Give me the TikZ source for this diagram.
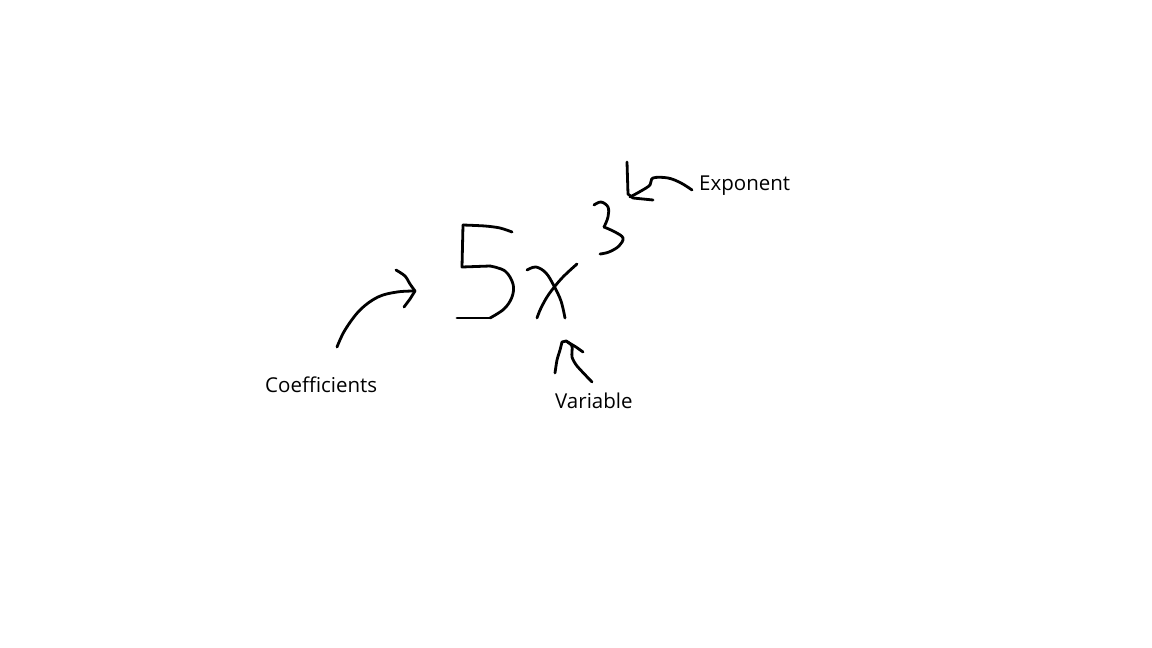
\documentclass[tikz,border=0pt]{standalone}
\usepackage{fontspec}
\setmainfont{Open Sans}
\begin{document}
\begin{tikzpicture}[x=1pt,y=-1pt,
  ink/.style={line width=2.8pt,line cap=round,line join=round,black},
  lbl/.style={anchor=base west,inner sep=0pt,font=\fontsize{20.5}{24}\selectfont}]
\useasboundingbox (0,0) rectangle (1152,648);
% 5
\draw[ink] plot[smooth,tension=0.5] coordinates {(512,232) (500,228) (485,226) (463,225)};
\draw[ink] (463,225) -- (462,267) -- (490,266);
\draw[ink] plot[smooth,tension=0.6] coordinates {(490,266) (505,271) (513,284) (512,297) (504,309) (490,318)};
\draw[ink] (490,318) -- (457,318);
% x
\draw[ink] plot[smooth,tension=0.6] coordinates {(527,270) (536,267) (546,273) (554,286) (561,301) (565,318)};
\draw[ink] plot[smooth,tension=0.6] coordinates {(577,264) (562,278) (549,294) (541,308) (537,318)};
% 3
\draw[ink] plot[smooth,tension=0.6] coordinates {(594,205) (601,202) (608,207) (608,217) (604,227)};
\draw[ink] plot[smooth,tension=0.6] coordinates {(604,227) (615,232) (623,238) (619,246) (609,252) (600,254)};
% coefficient arrow
\draw[ink] plot[smooth,tension=0.6] coordinates {(337,347) (345,330) (360,310) (378,297) (397,292) (415,291)};
\draw[ink] plot[smooth,tension=0.5] coordinates {(396,270) (405,276) (410,284) (415,291)};
\draw[ink] (415,291) -- (410,299) -- (404,307);
% exponent arrow
\draw[ink] (627,162) -- (628,194) -- (633,198) -- (653,200);
\draw[ink] plot[smooth,tension=0.6] coordinates {(692,190) (681,183) (668,178) (653,178) (650,185) (641,191) (630,197)};
% variable arrow
\draw[ink] plot[smooth,tension=0.4] coordinates {(555,373) (557,360) (560,350) (562,342)};
\draw[ink] (562,342) -- (566,341) -- (576,347) -- (583,352);
\draw[ink] plot[smooth,tension=0.4] coordinates {(592,382) (577,366) (572,357) (572,346) (566,341)};
% labels
\node[lbl] (coef) at (265,392.5) {Coefficients};
\node[lbl] (var) at (555,408.5) {Variable};
\node[lbl] (expo) at (699,190) {Exponent};
\end{tikzpicture}
\end{document}
